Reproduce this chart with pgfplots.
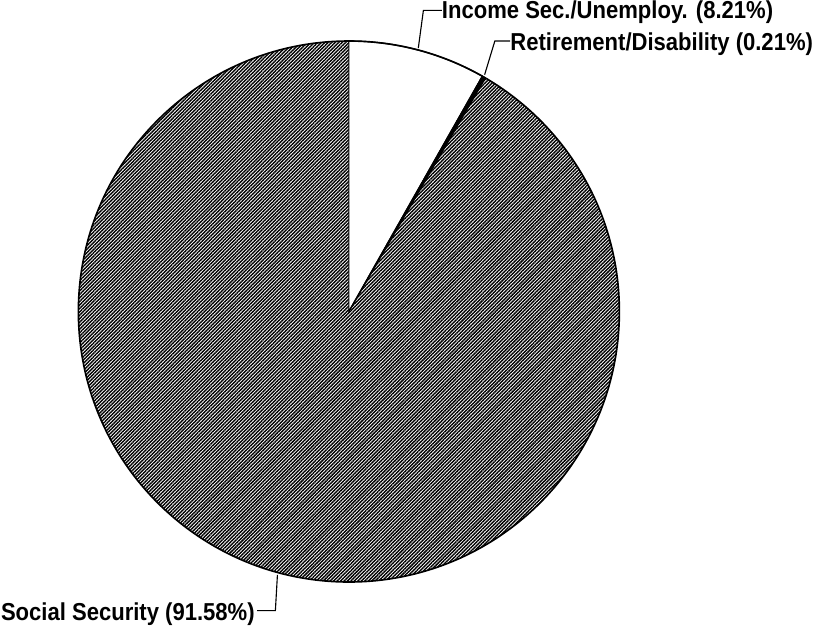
\documentclass[border=0pt]{standalone}
\usepackage{pgfplots}
\pgfplotsset{compat=1.18}
\usepackage{pgfplotstable}
\usetikzlibrary{patterns.meta}
\usepackage{fontspec}
\setmainfont{Liberation Sans}

% shares of the pie, in percent (clockwise from 12 o'clock)
\pgfplotstableread{
value
8.21
0.21
91.58
}\piedata

\newcommand{\lbl}[1]{\scalebox{0.9}[1]{\bfseries\fontsize{24}{26}\selectfont #1}}

\begin{document}
\begin{tikzpicture}
\pgfplotstablegetelem{0}{value}\of\piedata \let\vA\pgfplotsretval
\pgfplotstablegetelem{1}{value}\of\piedata \let\vB\pgfplotsretval
\pgfplotstablegetelem{2}{value}\of\piedata \let\vC\pgfplotsretval
\pgfmathsetmacro{\aA}{90-3.6*\vA}
\pgfmathsetmacro{\aB}{\aA-3.6*\vB}
\pgfmathsetmacro{\aC}{\aB-3.6*\vC}
\def\R{265pt}
\begin{axis}[
    width=814pt, height=623pt, scale only axis,
    xmin=0, xmax=814, ymin=0, ymax=623,
    y dir=reverse,
    hide axis, clip=false,
  ]
  % Social Security
  \fill[pattern={Lines[angle=45,distance=2.4pt,line width=1.4pt]}]
    (axis cs:352,310) -- ++(\aB:\R) arc[start angle=\aB, end angle=\aC, radius=\R] -- cycle;
  % Income Sec./Unemploy.
  \filldraw[fill=white, draw=black, line width=1.2pt]
    (axis cs:352,310) -- ++(90:\R) arc[start angle=90, end angle=\aA, radius=\R] -- cycle;
  % Retirement/Disability
  \filldraw[fill=black, draw=black, line width=1.2pt]
    (axis cs:352,310) -- ++(\aA:\R) arc[start angle=\aA, end angle=\aB, radius=\R] -- cycle;
  \draw[line width=1.6pt] (axis cs:352,310) circle[radius=\R];

  % leader lines and labels
  \draw[line width=1.1pt] (axis cs:420,52) -- (axis cs:425,15) -- (axis cs:443,15);
  \node[anchor=west, inner sep=1pt] at (axis cs:442,17) {\lbl{Income Sec./Unemploy. (8.21\%)}};
  \draw[line width=1.1pt] (axis cs:485,78) -- (axis cs:495,45) -- (axis cs:510,45);
  \node[anchor=west, inner sep=1pt] at (axis cs:509,48) {\lbl{Retirement/Disability (0.21\%)}};
  \draw[line width=1.1pt] (axis cs:282,568) -- (axis cs:280,603) -- (axis cs:262,603);
  \node[anchor=west, inner sep=1pt] at (axis cs:10,607) {\lbl{Social Security (91.58\%)}};
\end{axis}
\end{tikzpicture}
\end{document}
